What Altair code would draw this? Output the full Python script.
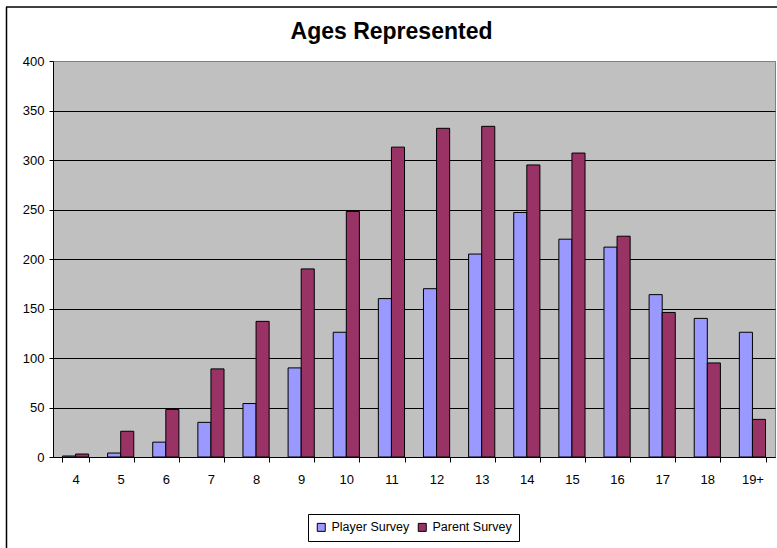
import altair as alt
import pandas as pd

# Age groups on the x axis
ages = ["4", "5", "6", "7", "8", "9", "10", "11", "12", "13", "14", "15", "16", "17", "18", "19+"]

# Respondent counts per age group
player_survey = [1, 4, 15, 35, 54, 90, 126, 160, 170, 205, 247, 220, 212, 164, 140, 126]
parent_survey = [3, 26, 48, 89, 137, 190, 248, 313, 332, 334, 295, 307, 223, 146, 95, 38]

surveys = ["Player Survey", "Parent Survey"]
colors = ["#9999FF", "#993366"]

rows = []
for age, p, q in zip(ages, player_survey, parent_survey):
    rows.append({"age": age, "survey": surveys[0], "count": p})
    rows.append({"age": age, "survey": surveys[1], "count": q})
df = pd.DataFrame(rows)

FONT = "Liberation Sans"

bars = alt.Chart(df).mark_bar(stroke="black", strokeWidth=1).encode(
    x=alt.X(
        "age:N",
        sort=ages,
        scale=alt.Scale(paddingInner=0.42, paddingOuter=0.21),
        axis=alt.Axis(
            title=None,
            labelAngle=0,
            tickBand="extent",
            grid=False,
            domainColor="black",
            tickColor="black",
            tickSize=5,
            labelPadding=11,
            labelFontSize=13,
            labelColor="black",
            labelFont=FONT,
        ),
    ),
    xOffset=alt.XOffset("survey:N", sort=surveys, scale=alt.Scale(paddingInner=0, paddingOuter=0)),
    y=alt.Y(
        "count:Q",
        scale=alt.Scale(domain=[0, 400], nice=False),
        axis=alt.Axis(
            title=None,
            values=list(range(0, 401, 50)),
            grid=True,
            gridColor={"condition": {"test": "datum.value >= 400", "value": "#808080"}, "value": "black"},
            gridWidth=1,
            domainColor="black",
            tickColor="black",
            tickSize=4,
            labelPadding=5,
            labelFontSize=13,
            labelColor="black",
            labelFont=FONT,
        ),
    ),
    color=alt.Color(
        "survey:N",
        sort=surveys,
        scale=alt.Scale(domain=surveys, range=colors),
        legend=alt.Legend(
            title=None,
            orient="none",
            legendX=255,
            legendY=453,
            direction="horizontal",
            symbolType="square",
            symbolSize=64,
            symbolStrokeColor="black",
            symbolStrokeWidth=1,
            symbolOpacity=1,
            labelFontSize=12.5,
            labelFont=FONT,
            labelColor="black",
            labelOffset=4,
            columnPadding=6,
            padding=7,
            strokeColor="black",
            fillColor="white",
        ),
    ),
)

# Outer frame lines of the chart area (left and top edges)
frame_df = pd.DataFrame({"k": [0]})
frame_left = alt.Chart(frame_df).mark_rule(color="black", strokeWidth=1.5).encode(
    x=alt.value(-46.5), y=alt.value(-54), y2=alt.value(490)
)
frame_top = alt.Chart(frame_df).mark_rule(color="black", strokeWidth=1.5).encode(
    x=alt.value(-47), x2=alt.value(724), y=alt.value(-54)
)

chart = alt.layer(bars, frame_left, frame_top).properties(
    width=722,
    height=396,
    background="white",
    title=alt.TitleParams(
        "Ages Represented",
        fontSize=23,
        fontWeight="bold",
        font=FONT,
        color="black",
        anchor="middle",
        frame="bounds",
        offset=-38,
    ),
    autosize=alt.AutoSizeParams(type="none"),
    padding={"left": 53, "top": 61, "right": 2, "bottom": 91},
).configure_view(
    fill="#C0C0C0", stroke="#808080", strokeWidth=1
)

chart.save("out.html", embed_options={"renderer": "svg", "actions": False})
